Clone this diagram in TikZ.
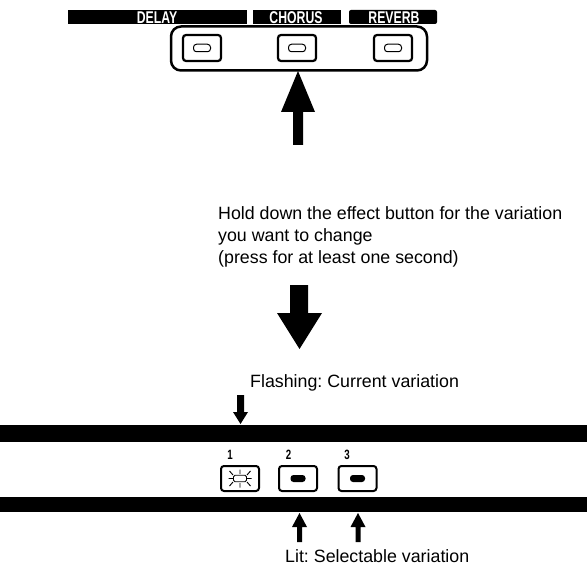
\documentclass[tikz,border=0pt]{standalone}
\usepackage{fontspec}
\setmainfont{Liberation Sans}
\newfontfamily\condfont[FakeStretch=0.72]{Liberation Sans}
\frenchspacing
\begin{document}
\begin{tikzpicture}[x=1pt,y=-1pt,
  btn/.style={draw, line width=2.2pt, rounded corners=3pt, minimum width=38pt, minimum height=26pt, inner sep=0pt},
  slot/.style={draw, line width=1pt, rounded corners=3pt, minimum width=17pt, minimum height=7.5pt, inner sep=0pt},
  litslot/.style={fill, rounded corners=3pt, minimum width=15pt, minimum height=7pt, inner sep=0pt},
  barlabel/.style={text=white, font=\condfont\bfseries\fontsize{17}{17}\selectfont, inner sep=0pt},
  numlabel/.style={font=\condfont\bfseries\fontsize{13.5}{13.5}\selectfont, inner sep=0pt},
  caption/.style={font=\fontsize{17.8}{22}\selectfont, inner sep=0pt, anchor=base west},
  bigarrow/.style={fill=black}
]
\useasboundingbox (0,0) rectangle (587,567);

% ---- top panel bar ----
\fill (68,10) rectangle (247,24);
\fill (253,10) rectangle (341,24);
\fill[rounded corners=2pt] (349,10) rectangle (437,24);
\node[barlabel] (ldelay) at (157,17.5) {DELAY};
\node[barlabel] (lchorus) at (296,17.5) {CHORUS};
\node[barlabel] (lreverb) at (394,17.5) {REVERB};

% ---- group outline and buttons ----
\node[draw, line width=2.5pt, rounded corners=10pt, minimum width=256pt, minimum height=44pt, inner sep=0pt] (panel) at (299,48.5) {};
\node[btn] (b1) at (202,48) {};
\node[btn] (b2) at (297,48) {};
\node[btn] (b3) at (393,48) {};
\node[slot] (s1) at (b1) {};
\node[slot] (s2) at (b2) {};
\node[slot] (s3) at (b3) {};

% ---- big up arrow ----
\fill[bigarrow] (293,145) -- (293,112) -- (281,112) -- (298,71) -- (315,112) -- (303,112) -- (303,145) -- cycle;

% ---- instruction text ----
\node[caption] (t1) at (218,219) {Hold down the effect button for the variation};
\node[caption] (t2) at (218,241) {you want to change};
\node[caption] (t3) at (218,263) {(press for at least one second)};

% ---- big down arrow ----
\fill[bigarrow] (290,285) -- (290,313) -- (277,313) -- (299.5,349) -- (322,313) -- (308,313) -- (308,285) -- cycle;

% ---- flashing label and arrow ----
\node[caption] (tf) at (250,387) {Flashing: Current variation};
\fill (237,395) -- (237,412) -- (233,412) -- (240.5,424) -- (248,412) -- (244,412) -- (244,395) -- cycle;

% ---- bottom panel bars ----
\fill (0,425) rectangle (587,442);
\fill (0,497) rectangle (587,512);

% ---- bottom buttons ----
\node[btn, minimum width=38pt, minimum height=25pt, line width=2pt] (v1) at (240,478.5) {};
\node[btn, minimum width=38pt, minimum height=25pt, line width=2pt] (v2) at (298,478.5) {};
\node[btn, minimum width=38pt, minimum height=25pt, line width=2pt] (v3) at (357.5,478.5) {};
\node[numlabel] (n1) at (230,455) {1};
\node[numlabel] (n2) at (288.5,455) {2};
\node[numlabel] (n3) at (347,455) {3};
\node[litslot] (l2) at (v2) {};
\node[litslot] (l3) at (v3) {};
% flashing indicator
\node[draw, line width=0.9pt, rounded corners=1.5pt, minimum width=13pt, minimum height=6.5pt, inner sep=0pt] (f1) at (v1) {};
\draw[line width=0.9pt]
  (240,474) -- (240,469.5)
  (240,483) -- (240,487.5)
  (233,475) -- (229.5,471)
  (247,475) -- (250.5,471)
  (233,482) -- (229.5,486)
  (247,482) -- (250.5,486)
  (233,478.5) -- (228.5,478.5)
  (247,478.5) -- (251.5,478.5);

% ---- lit arrows ----
\fill (297,542) -- (297,527) -- (292,527) -- (299.5,513) -- (307,527) -- (302,527) -- (302,542) -- cycle;
\fill (355.5,542) -- (355.5,527) -- (350.5,527) -- (358,513) -- (365.5,527) -- (360.5,527) -- (360.5,542) -- cycle;
\node[caption] (tl) at (285,562) {Lit: Selectable variation};
\end{tikzpicture}
\end{document}
